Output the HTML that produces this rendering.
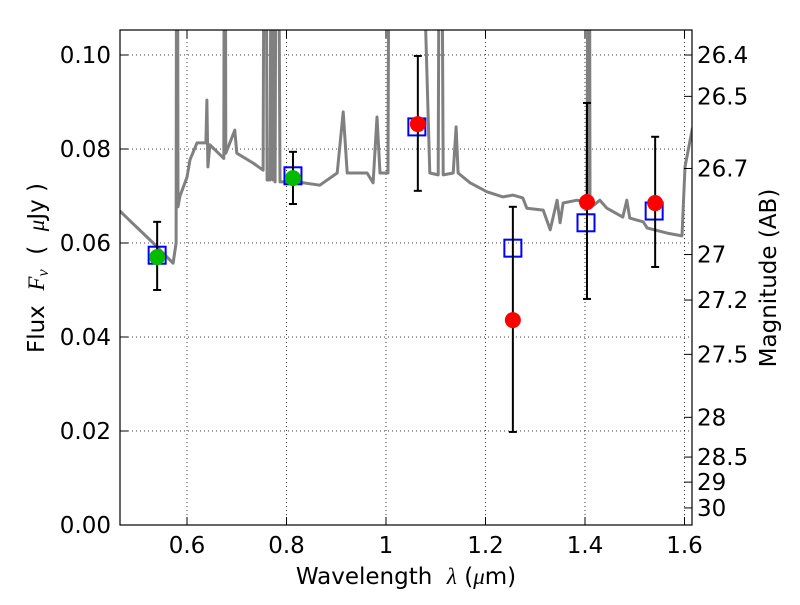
<!DOCTYPE html>
<html><head><meta charset="utf-8"><style>
body{margin:0;background:#fff}
svg text{font-family:"DejaVu Sans","Liberation Sans",sans-serif;font-size:23px;fill:#000}
</style></head><body>
<svg id="chart" width="800" height="600" viewBox="0 0 800 600" xmlns="http://www.w3.org/2000/svg">
<defs><clipPath id="pc"><rect x="120" y="30" width="572" height="495"/></clipPath></defs>
<g id="grid"></g>
<g id="spec" clip-path="url(#pc)"></g>
<g id="marks" clip-path="url(#pc)"></g>
<rect x="120" y="30" width="572" height="495" fill="none" stroke="#000" stroke-width="1.2"/>
<g id="axes"></g>
<text x="406" y="584" text-anchor="middle">Wavelength&#160;&#160;<tspan font-family="Liberation Serif" font-style="italic">λ</tspan> (<tspan font-family="Liberation Serif" font-style="italic">μ</tspan>m)</text>
<text transform="translate(44,268) rotate(-90)" text-anchor="middle">Flux&#160;&#160;<tspan font-family="Liberation Serif" font-style="italic">F</tspan><tspan font-family="Liberation Serif" font-style="italic" font-size="16" dy="4">ν</tspan><tspan dy="-4">&#160;&#160;(&#160;&#160;</tspan><tspan font-family="Liberation Serif" font-style="italic">μ</tspan>Jy )</text>
<text transform="translate(776,278) rotate(-90)" text-anchor="middle">Magnitude (AB)</text>
</svg>
<script>
const specLam=[0.465,0.532,0.572,0.578,0.580,0.582,0.586,0.600,0.606,0.620,0.638,0.640,0.642,0.646,0.674,0.676,0.678,0.696,0.700,0.733,0.753,0.757,0.761,0.767,0.771,0.773,0.775,0.777,0.781,0.787,0.821,0.867,0.902,0.914,0.922,0.962,0.974,0.982,0.988,1.004,1.008,1.054,1.088,1.105,1.109,1.115,1.135,1.141,1.145,1.169,1.203,1.235,1.255,1.275,1.283,1.316,1.330,1.344,1.350,1.356,1.384,1.404,1.408,1.410,1.418,1.430,1.444,1.476,1.484,1.490,1.517,1.525,1.565,1.595,1.601,1.616];
const specFlux=[0.0668,0.0600,0.0557,0.0600,0.2,0.0677,0.0700,0.0740,0.0777,0.0813,0.0813,0.0904,0.0762,0.0809,0.0780,0.2,0.0791,0.0840,0.0791,0.0770,0.0755,0.2,0.0734,0.0734,0.2,0.0734,0.2,0.0730,0.2,0.0730,0.0730,0.0723,0.0749,0.0879,0.0749,0.0749,0.0728,0.0868,0.0749,0.0749,0.2,0.2,0.0749,0.0745,0.2,0.0745,0.0749,0.0847,0.0749,0.0728,0.0709,0.0698,0.0702,0.0696,0.0674,0.0670,0.0628,0.0691,0.0643,0.0685,0.0691,0.0685,0.2,0.0681,0.0681,0.0691,0.0674,0.0655,0.0691,0.0653,0.0645,0.0632,0.0621,0.0615,0.0762,0.0845];
const greenLam=[0.540,0.813];
const greenFlux=[0.0570,0.0738];
const greenLo=[0.0500,0.0683];
const greenHi=[0.0645,0.0794];
const redLam=[1.064,1.255,1.404,1.541];
const redFlux=[0.0853,0.0436,0.0687,0.0685];
const redLo=[0.0711,0.0198,0.0481,0.0549];
const redHi=[0.0998,0.0677,0.0898,0.0826];
const modelLam=[0.540,0.813,1.062,1.255,1.402,1.539];
const modelFlux=[0.0574,0.0743,0.0847,0.0589,0.0643,0.0668];
const xTicks=[0.6,0.8,1.0,1.2,1.4,1.6];
const xTickLabels=["0.6","0.8","1","1.2","1.4","1.6"];
const yTicks=[0,0.02,0.04,0.06,0.08,0.10];
const yTickLabels=["0.00","0.02","0.04","0.06","0.08","0.10"];
const magTicks=[26.4,26.5,26.7,27,27.2,27.5,28,28.5,29,30];
const magLabels=["26.4","26.5","26.7","27","27.2","27.5","28","28.5","29","30"];

const NS="http://www.w3.org/2000/svg";
const X=l=>187+(l-0.6)*497.5;
const Y=f=>525-f*4700;
function mk(tag,attrs,parent,txt){const e=document.createElementNS(NS,tag);for(const k in attrs)e.setAttribute(k,attrs[k]);if(txt!==undefined)e.textContent=txt;parent.appendChild(e);return e;}
const grid=document.getElementById('grid'),axes=document.getElementById('axes'),spec=document.getElementById('spec'),marks=document.getElementById('marks');
xTicks.forEach((t,i)=>{const x=X(t);
 let g=mk('line',{x1:x,x2:x,y1:30,y2:525,stroke:'#000','stroke-width':0.8,'stroke-dasharray':'1,3'},grid);
 
 mk('line',{x1:x,x2:x,y1:525,y2:517,stroke:'#000'},axes);mk('line',{x1:x,x2:x,y1:30,y2:38,stroke:'#000'},axes);
 let tx=mk('text',{x:x,y:553,'text-anchor':'middle'},axes,xTickLabels[i]);
 });
yTicks.forEach((t,i)=>{const y=Y(t);
 let g=mk('line',{x1:120,x2:692,y1:y,y2:y,stroke:'#000','stroke-width':0.8,'stroke-dasharray':'1,3'},grid);
 
 mk('line',{x1:120,x2:128,y1:y,y2:y,stroke:'#000'},axes);
 let tx=mk('text',{x:111,y:y+8,'text-anchor':'end'},axes,yTickLabels[i]);
 });
magTicks.forEach((m,i)=>{const y=Y(Math.pow(10,(23.9-m)/2.5));
 mk('line',{x1:684,x2:692,y1:y,y2:y,stroke:'#000'},axes);
 let tx=mk('text',{x:697,y:y+8,'text-anchor':'start'},axes,magLabels[i]);
 });
let d=specLam.map((l,i)=>(i?'L':'M')+X(l).toFixed(1)+','+Y(specFlux[i]).toFixed(1)).join('');
let p=mk('path',{d:d,fill:'none',stroke:'#808080','stroke-width':3,'stroke-linejoin':'round'},spec);

function errbar(l,lo,hi){const x=X(l);
 let g=mk('g',{stroke:'#000','stroke-width':2},marks);
 
 mk('line',{x1:x,x2:x,y1:Y(lo),y2:Y(hi)},g);mk('line',{x1:x-4,x2:x+4,y1:Y(lo),y2:Y(lo)},g);mk('line',{x1:x-4,x2:x+4,y1:Y(hi),y2:Y(hi)},g);}
modelLam.forEach((l,i)=>{let r=mk('rect',{x:X(l)-8.5,y:Y(modelFlux[i])-8.5,width:17,height:17,fill:'none',stroke:'#0000ff','stroke-width':2},marks);
 });
greenLam.forEach((l,i)=>{errbar(l,greenLo[i],greenHi[i]);
 let c=mk('circle',{cx:X(l),cy:Y(greenFlux[i]),r:8,fill:'#00bb00'},marks);
 });
redLam.forEach((l,i)=>{errbar(l,redLo[i],redHi[i]);
 let c=mk('circle',{cx:X(l),cy:Y(redFlux[i]),r:8,fill:'#ff0000'},marks);
 });
</script>
</body></html>
